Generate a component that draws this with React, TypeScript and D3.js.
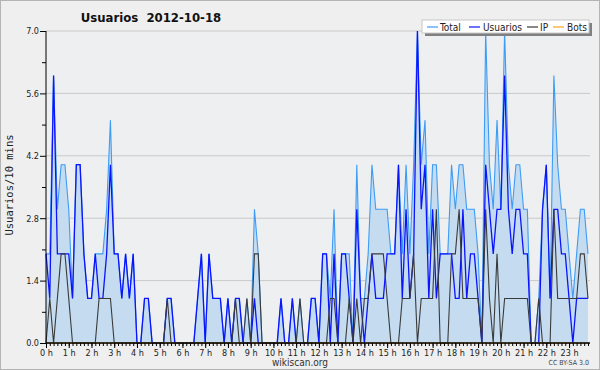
import React, { useEffect, useRef } from 'react';
import * as d3 from 'd3';

// one value every 10 minutes, 0h -> 23h50
const usuarios: number[] = [
  2, 1, 6, 2, 2, 2, 2, 1, 4, 4, 2, 1,
  1, 2, 1, 1, 2, 4, 2, 2, 1, 2, 1, 2,
  0, 0, 1, 1, 0, 0, 0, 0, 1, 1, 0, 0,
  0, 0, 0, 0, 1, 2, 0, 2, 1, 1, 1, 0,
  1, 0, 1, 1, 0, 0, 0, 1, 0, 0, 0, 0,
  0, 0, 1, 0, 0, 1, 0, 0, 0, 0, 1, 1,
  0, 2, 2, 0, 2, 0, 2, 2, 1, 0, 3, 1,
  0, 1, 2, 1, 1, 1, 2, 2, 2, 4, 1, 3,
  1, 2, 7, 3, 4, 1, 3, 1, 2, 2, 2, 2,
  1, 1, 3, 1, 2, 2, 1, 0, 4, 3, 2, 3,
  3, 6, 3, 2, 3, 3, 2, 2, 0, 0, 0, 3,
  4, 1, 3, 3, 2, 2, 1, 0, 1, 1, 1, 1,
];

const ip: number[] = [
  0, 1, 0, 1, 2, 2, 1, 0, 0, 0, 0, 0,
  0, 0, 1, 1, 1, 1, 0, 0, 0, 0, 0, 0,
  0, 0, 0, 0, 0, 0, 0, 0, 1, 0, 0, 0,
  0, 0, 0, 0, 0, 0, 0, 0, 0, 0, 0, 0,
  0, 0, 1, 0, 0, 1, 0, 2, 2, 0, 0, 0,
  0, 0, 0, 0, 0, 0, 0, 1, 0, 0, 0, 0,
  0, 0, 0, 1, 1, 0, 0, 0, 1, 0, 1, 0,
  1, 1, 2, 2, 2, 2, 1, 0, 0, 0, 1, 1,
  1, 2, 0, 1, 1, 1, 1, 3, 0, 0, 0, 2,
  2, 3, 1, 1, 1, 1, 1, 0, 3, 1, 0, 2,
  0, 1, 1, 1, 1, 1, 1, 1, 0, 0, 1, 0,
  0, 0, 3, 1, 1, 1, 1, 1, 1, 2, 2, 1,
];

const total: number[] = [
  2, 2, 6, 3, 4, 4, 3, 1, 4, 4, 2, 1,
  1, 2, 2, 2, 3, 5, 2, 2, 1, 2, 1, 2,
  0, 0, 1, 1, 0, 0, 0, 0, 1, 1, 0, 0,
  0, 0, 0, 0, 1, 2, 0, 2, 1, 1, 1, 0,
  1, 0, 1, 1, 0, 1, 0, 3, 2, 0, 0, 0,
  0, 0, 1, 0, 0, 1, 0, 1, 0, 0, 1, 1,
  0, 2, 2, 1, 3, 0, 2, 2, 2, 0, 4, 1,
  1, 2, 4, 3, 3, 3, 3, 2, 2, 4, 2, 4,
  2, 4, 7, 4, 5, 2, 4, 4, 2, 2, 2, 4,
  3, 4, 4, 3, 3, 3, 2, 0, 7, 4, 3, 5,
  3, 7, 4, 3, 4, 4, 3, 3, 0, 0, 1, 3,
  4, 1, 6, 4, 3, 3, 2, 1, 2, 3, 3, 2,
];

const bots: number[] = [
  0, 0, 0, 0, 0, 0, 0, 0, 0, 0, 0, 0,
  0, 0, 0, 0, 0, 0, 0, 0, 0, 0, 0, 0,
  0, 0, 0, 0, 0, 0, 0, 0, 0, 0, 0, 0,
  0, 0, 0, 0, 0, 0, 0, 0, 0, 0, 0, 0,
  0, 0, 0, 0, 0, 0, 0, 0, 0, 0, 0, 0,
  0, 0, 0, 0, 0, 0, 0, 0, 0, 0, 0, 0,
  0, 0, 0, 0, 0, 0, 0, 0, 0, 0, 0, 0,
  0, 0, 0, 0, 0, 0, 0, 0, 0, 0, 0, 0,
  0, 0, 0, 0, 0, 0, 0, 0, 0, 0, 0, 0,
  0, 0, 0, 0, 0, 0, 0, 0, 0, 0, 0, 0,
  0, 0, 0, 0, 0, 0, 0, 0, 0, 0, 0, 0,
  0, 0, 0, 0, 0, 0, 0, 0, 0, 0, 0, 0,
];

const hourLabels = [
  '0 h', '1 h', '2 h', '3 h', '4 h', '5 h', '6 h', '7 h', '8 h', '9 h', '10 h', '11 h',
  '12 h', '13 h', '14 h', '15 h', '16 h', '17 h', '18 h', '19 h', '20 h', '21 h', '22 h', '23 h',
];
const yTicks = [0, 1.4, 2.8, 4.2, 5.6, 7.0];
const yMinorTicks = [0.7, 2.1, 3.5, 4.9, 6.3];

const series = [
  { name: 'Total', values: total, color: '#3d9cf5' },
  { name: 'Usuarios', values: usuarios, color: '#0a14ff' },
  { name: 'IP', values: ip, color: '#3a3a3a' },
  { name: 'Bots', values: bots, color: '#ffa31a' },
];

const cond = '"DejaVu Sans Condensed", "DejaVu Sans", sans-serif';

const App = () => {
  const ref = useRef<SVGSVGElement>(null);

  useEffect(() => {
    const svg = d3.select(ref.current);
    svg.selectAll('*').remove();

    const left = 46;
    const right = 588;
    const top = 31;
    const bottom = 343;

    const x = d3.scaleLinear().domain([0, 143]).range([left, right]);
    const y = d3.scaleLinear().domain([0, 7]).range([bottom, top]);

    // frame
    svg.append('rect').attr('x', 0.5).attr('y', 0.5).attr('width', 599).attr('height', 369)
      .attr('fill', '#efefef').attr('stroke', '#b4b4b4');
    svg.append('rect').attr('x', left).attr('y', top).attr('width', 590 - left).attr('height', bottom - top)
      .attr('fill', '#eeeff1');

    // grid
    svg.append('g').selectAll('line').data(yTicks.slice(1)).join('line')
      .attr('x1', left).attr('x2', 590)
      .attr('y1', d => y(d)).attr('y2', d => y(d))
      .attr('stroke', '#c9c9c9').attr('stroke-width', 1);

    // total area
    const area = d3.area<number>().x((d, i) => x(i)).y0(y(0)).y1(d => y(d));
    svg.append('path').datum(total).attr('d', area).attr('fill', '#c5dcf0');

    const line = d3.line<number>().x((d, i) => x(i)).y(d => y(d));
    series.forEach(s => {
      svg.append('path').datum(s.values).attr('d', line)
        .attr('fill', 'none').attr('stroke', s.color)
        .attr('stroke-width', s.name === 'Usuarios' ? 1.3 : 1.1)
        .attr('stroke-linejoin', 'miter');
    });

    // axes
    const tickFont = (g: any) => {
      g.select('.domain').remove();
      g.selectAll('text').attr('font-family', cond).attr('font-size', 9).attr('fill', '#222');
      g.selectAll('line').attr('stroke', '#000');
    };

    svg.append('g').attr('transform', `translate(${left},0)`)
      .call(d3.axisLeft(y).tickValues(yMinorTicks).tickSize(4).tickFormat(() => ''))
      .call(tickFont);
    svg.append('g').attr('transform', `translate(${left},0)`)
      .call(d3.axisLeft(y).tickValues(yTicks).tickSize(6).tickPadding(1).tickFormat(d => (+d).toFixed(1)))
      .call(tickFont);

    svg.append('g').attr('transform', `translate(0,${bottom})`)
      .call(d3.axisBottom(x).tickValues(d3.range(0, 144)).tickSize(3).tickFormat(() => ''))
      .call(tickFont);
    svg.append('g').attr('transform', `translate(0,${bottom})`)
      .call(d3.axisBottom(x).tickValues(hourLabels.map((h, i) => i * 6)).tickSize(5).tickPadding(2)
        .tickFormat((d, i) => hourLabels[i]))
      .call(tickFont);

    svg.append('line').attr('x1', left).attr('x2', left).attr('y1', top).attr('y2', bottom + 0.5)
      .attr('stroke', '#000');
    svg.append('line').attr('x1', left).attr('x2', 590).attr('y1', bottom).attr('y2', bottom)
      .attr('stroke', '#000').attr('stroke-width', 1.5);

    // title
    svg.append('text').attr('x', 151).attr('y', 22).attr('text-anchor', 'middle')
      .attr('font-family', cond).attr('font-weight', 'bold').attr('font-size', 13)
      .attr('fill', '#111').text('Usuarios  2012-10-18').attr('xml:space', 'preserve')
      .style('white-space', 'pre');

    // y label
    svg.append('text').attr('transform', 'translate(13,185) rotate(-90)')
      .attr('text-anchor', 'middle').attr('font-family', '"DejaVu Sans Mono", monospace')
      .attr('font-size', 10.5).attr('fill', '#222').text('Usuarios/10 mins');

    // footer
    svg.append('text').attr('x', 300).attr('y', 366).attr('text-anchor', 'middle')
      .attr('font-family', cond).attr('font-size', 10).attr('fill', '#333').text('wikiscan.org');
    svg.append('text').attr('x', 589).attr('y', 365).attr('text-anchor', 'end')
      .attr('font-family', cond).attr('font-size', 7).attr('fill', '#444').text('CC BY-SA 3.0');

    // legend
    const lg = svg.append('g');
    lg.append('rect').attr('x', 425).attr('y', 23).attr('width', 167).attr('height', 13).attr('fill', '#808080');
    lg.append('rect').attr('x', 422).attr('y', 20).attr('width', 167).attr('height', 13)
      .attr('fill', '#ffffff').attr('stroke', '#c8c8c8');
    const items = [
      { x: 427, tx: 440 },
      { x: 469, tx: 483 },
      { x: 527, tx: 540 },
      { x: 553, tx: 567 },
    ];
    series.forEach((s, i) => {
      lg.append('line').attr('x1', items[i].x).attr('x2', items[i].x + 11)
        .attr('y1', 27).attr('y2', 27).attr('stroke', s.color).attr('stroke-width', 1.2);
      lg.append('text').attr('x', items[i].tx).attr('y', 30.5)
        .attr('font-family', cond).attr('font-size', 10).attr('fill', '#222').text(s.name);
    });
  }, []);

  return (
    <div style={{ position: 'fixed', left: 0, top: 0 }}>
      <svg ref={ref} width={600} height={370} style={{ display: 'block' }} />
    </div>
  );
};

export default App;
